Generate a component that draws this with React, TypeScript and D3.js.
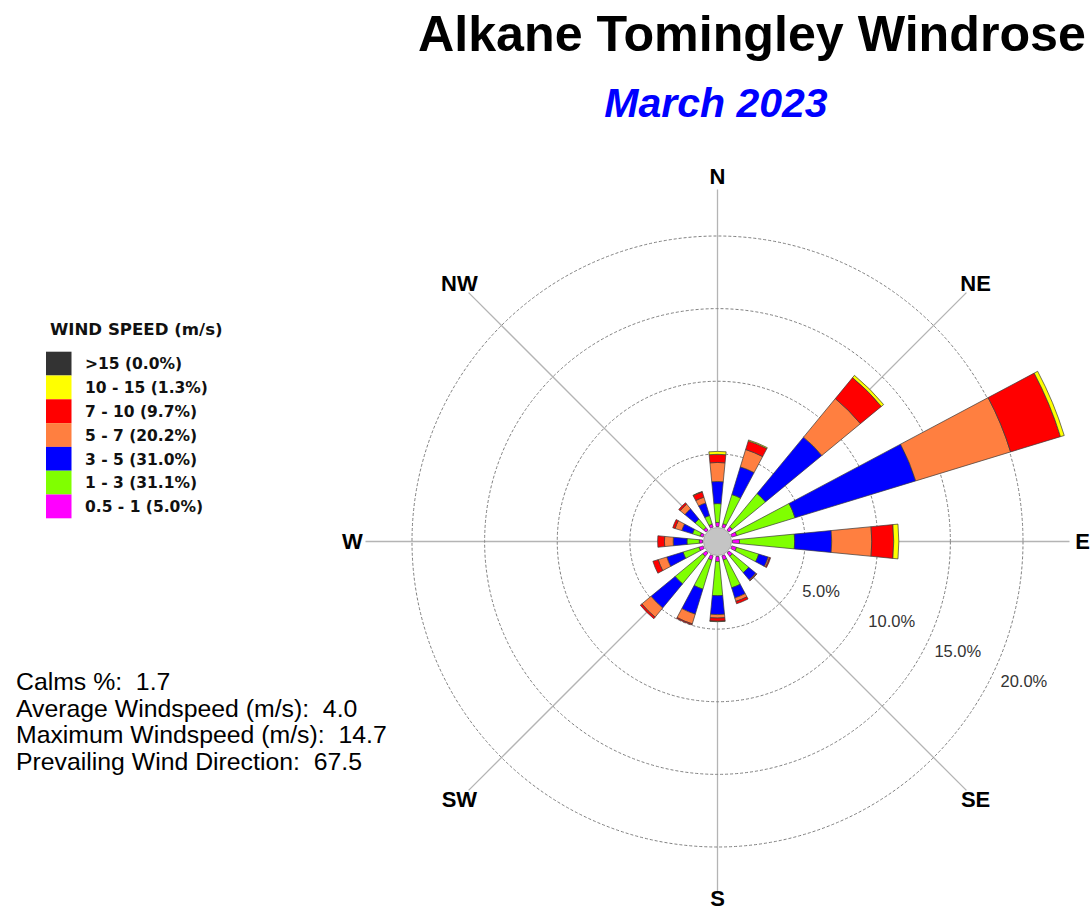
import { useRef, useEffect } from "react";
import * as d3 from "d3";

const FONT = "'Liberation Sans', Arial, sans-serif";
const FONT_LEGEND = "'DejaVu Sans', Verdana, sans-serif";

// Retningar (kompass, medurs från N)
const DIRECTIONS = ["N", "NNE", "NE", "ENE", "E", "ESE", "SE", "SSE", "S", "SSW", "SW", "WSW", "W", "WNW", "NW", "NNW"];

// Frekvens (%) per riktning och hastighetsklass
const SPD_05_1 = [0.28, 0.25, 0.3, 0.35, 0.48, 0.34, 0.3, 0.3, 0.35, 0.3, 0.3, 0.3, 0.22, 0.22, 0.22, 0.22];
const SPD_1_3 = [1.3, 2.1, 2.95, 4.2, 3.8, 1.6, 1.45, 2.0, 2.35, 2.1, 2.45, 1.15, 0.85, 0.55, 0.75, 0.62];
const SPD_3_5 = [1.52, 1.99, 5.03, 8.69, 2.55, 0.68, 0.63, 0.73, 1.3, 1.8, 2.15, 1.17, 0.95, 0.77, 0.91, 0.9];
const SPD_5_7 = [1.31, 1.25, 3.44, 6.83, 2.76, 0.1, 0.07, 0.25, 0.24, 0.7, 0.82, 0.62, 0.6, 0.48, 0.42, 0.42];
const SPD_7_10 = [0.56, 0.62, 1.87, 3.59, 1.51, 0.07, 0.03, 0.17, 0.22, 0.07, 0.14, 0.38, 0.47, 0.17, 0.13, 0.38];
const SPD_10_15 = [0.2, 0.07, 0.2, 0.27, 0.35, 0, 0, 0, 0.03, 0, 0, 0, 0, 0, 0, 0.03];
const SPD_15 = [0, 0, 0, 0, 0, 0, 0, 0, 0, 0, 0, 0, 0, 0, 0, 0];

const CLASS_KEYS = ["0.5 - 1", "1 - 3", "3 - 5", "5 - 7", "7 - 10", "10 - 15", ">15"];
const CLASS_COLORS = ["#ff00ff", "#80ff00", "#0000ff", "#ff7f40", "#ff0000", "#ffff00", "#333333"];
const LEGEND_LABELS = [">15 (0.0%)", "10 - 15 (1.3%)", "7 - 10 (9.7%)", "5 - 7 (20.2%)", "3 - 5 (31.0%)", "1 - 3 (31.1%)", "0.5 - 1 (5.0%)"];
const LEGEND_COLORS = ["#333333", "#ffff00", "#ff0000", "#ff7f40", "#0000ff", "#80ff00", "#ff00ff"];

const RING_TICKS = [5, 10, 15, 20];
const AXIS_LABELS = ["N", "NE", "E", "SE", "S", "SW", "W", "NW"];
const STATS = [
  "Calms %:  1.7",
  "Average Windspeed (m/s):  4.0",
  "Maximum Windspeed (m/s):  14.7",
  "Prevailing Wind Direction:  67.5",
];

export default function App() {
  const ref = useRef<SVGSVGElement>(null);

  useEffect(() => {
    if (!ref.current) return;
    const svg = d3.select(ref.current);
    svg.selectAll("*").remove();

    const W = 1092;
    const H = 912;
    const cx = 717.5;
    const cy = 541.5;
    const rad = (deg: number) => (deg * Math.PI) / 180;

    svg.append("rect").attr("width", W).attr("height", H).attr("fill", "#fff");

    // Titlar
    svg.append("text")
      .attr("x", 418).attr("y", 51)
      .attr("font-family", FONT).attr("font-weight", "bold").attr("font-size", "50.2px")
      .attr("fill", "#000")
      .text("Alkane Tomingley Windrose");

    svg.append("text")
      .attr("x", 716).attr("y", 117)
      .attr("text-anchor", "middle")
      .attr("font-family", FONT).attr("font-weight", "bold").attr("font-style", "italic")
      .attr("font-size", "41px").attr("fill", "#0000ff")
      .text("March 2023");

    // Radiell skala: 0 % börjar vid kalmcirkeln
    const r = d3.scaleLinear().domain([0, 20]).range([15, 305.5]);

    const g = svg.append("g").attr("transform", `translate(${cx},${cy})`);

    // Axlar
    const axisLen = 352;
    [0, 45, 90, 135].forEach((a) => {
      const dx = Math.sin(rad(a)) * axisLen;
      const dy = -Math.cos(rad(a)) * axisLen;
      g.append("line")
        .attr("x1", -dx).attr("y1", -dy).attr("x2", dx).attr("y2", dy)
        .attr("stroke", "#b4b4b4").attr("stroke-width", 1.3);
    });

    // Ringar
    RING_TICKS.forEach((t) => {
      g.append("circle")
        .attr("r", r(t))
        .attr("fill", "none").attr("stroke", "#808080")
        .attr("stroke-width", 1).attr("stroke-dasharray", "3,2");
    });

    // Staplade kronblad
    const rows = DIRECTIONS.map((d, i) => ({
      dir: d,
      "0.5 - 1": SPD_05_1[i],
      "1 - 3": SPD_1_3[i],
      "3 - 5": SPD_3_5[i],
      "5 - 7": SPD_5_7[i],
      "7 - 10": SPD_7_10[i],
      "10 - 15": SPD_10_15[i],
      ">15": SPD_15[i],
    }));
    const stacked = d3.stack<any>().keys(CLASS_KEYS)(rows);
    const halfW = rad(5.5);
    const arc = d3.arc<any>();

    stacked.forEach((series, k) => {
      series.forEach((seg, i) => {
        if (seg[1] - seg[0] <= 0) return;
        const a = rad(i * 22.5);
        g.append("path")
          .attr("d", arc({
            innerRadius: r(seg[0]),
            outerRadius: r(seg[1]),
            startAngle: a - halfW,
            endAngle: a + halfW,
          }))
          .attr("fill", CLASS_COLORS[k])
          .attr("stroke", "#3a3a3a").attr("stroke-width", 0.7)
          .attr("stroke-linejoin", "round");
      });
    });

    // Kalmcirkel
    g.append("circle")
      .attr("r", 14)
      .attr("fill", "#c4c4c4").attr("stroke", "#a0a0a0").attr("stroke-width", 0.8);

    // Kompassetiketter
    AXIS_LABELS.forEach((lab, i) => {
      const a = rad(i * 45);
      const rr = lab === "S" ? 357 : 365;
      svg.append("text")
        .attr("x", cx + Math.sin(a) * rr)
        .attr("y", cy - Math.cos(a) * rr)
        .attr("text-anchor", "middle").attr("dominant-baseline", "central")
        .attr("font-family", FONT).attr("font-weight", "bold").attr("font-size", "22px")
        .attr("fill", "#000")
        .text(lab);
    });

    // Ringetiketter
    const la = rad(24.5);
    RING_TICKS.forEach((t) => {
      svg.append("text")
        .attr("x", cx + Math.cos(la) * r(t) + 5)
        .attr("y", cy + Math.sin(la) * r(t) + 13)
        .attr("dominant-baseline", "central")
        .attr("font-family", FONT).attr("font-size", "16.5px")
        .attr("fill", "#333")
        .text(`${t.toFixed(1)}%`);
    });

    // Legend
    svg.append("text")
      .attr("x", 50).attr("y", 335)
      .attr("font-family", FONT_LEGEND).attr("font-weight", "bold").attr("font-size", "16.6px")
      .attr("fill", "#111")
      .text("WIND SPEED (m/s)");

    const rowH = 23.8;
    const top = 351.7;
    LEGEND_LABELS.forEach((lab, i) => {
      const y0 = top + i * rowH;
      svg.append("rect")
        .attr("x", 46).attr("y", y0)
        .attr("width", 25.5).attr("height", rowH)
        .attr("fill", LEGEND_COLORS[i]);
      svg.append("text")
        .attr("x", 85).attr("y", y0 + rowH / 2 + 5.8)
        .attr("font-family", FONT_LEGEND).attr("font-weight", "bold").attr("font-size", "15.5px")
        .attr("fill", "#111")
        .text(lab);
    });

    // Statistik
    STATS.forEach((s, i) => {
      svg.append("text")
        .attr("x", 16).attr("y", 690 + i * 26.6)
        .attr("font-family", FONT).attr("font-size", "24.8px")
        .attr("fill", "#000")
        .style("white-space", "pre")
        .text(s);
    });
  }, []);

  return (
    <svg
      ref={ref}
      width={1092}
      height={912}
      style={{ position: "absolute", left: 0, top: 0, display: "block" }}
    />
  );
}
